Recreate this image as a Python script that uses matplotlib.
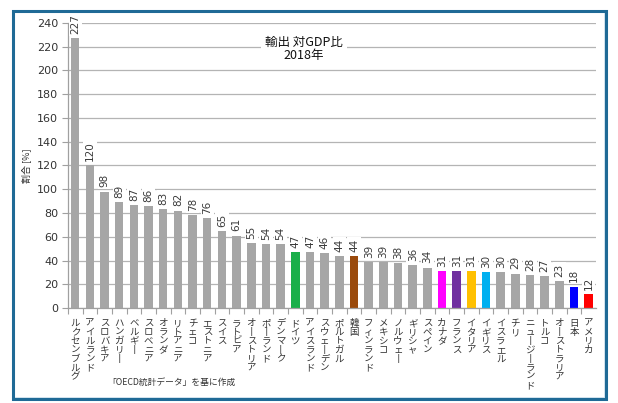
import matplotlib
matplotlib.use("Agg")
import matplotlib.pyplot as plt
from matplotlib.patches import Rectangle

plt.rcParams['font.family'] = ['Noto Sans CJK JP', 'DejaVu Sans']

# data
countries = ["ルクセンブルグ", "アイルランド", "スロバキア", "ハンガリー", "ベルギー",
             "スロベニア", "オランダ", "リトアニア", "チェコ", "エストニア", "スイス",
             "ラトビア", "オーストリア", "ポーランド", "デンマーク", "ドイツ",
             "アイスランド", "スウェーデン", "ポルトガル", "韓国", "フィンランド",
             "メキシコ", "ノルウェー", "ギリシャ", "スペイン", "カナダ", "フランス",
             "イタリア", "イギリス", "イスラエル", "チリ", "ニュージーランド", "トルコ",
             "オーストラリア", "日本", "アメリカ"]
values = [227, 120, 98, 89, 87, 86, 83, 82, 78, 76, 65, 61, 55, 54, 54, 47,
          47, 46, 44, 44, 39, 39, 38, 36, 34, 31, 31, 31, 30, 30, 29, 28, 27,
          23, 18, 12]
highlight = {"ドイツ": "#1aaf4a", "韓国": "#9a4a0c", "カナダ": "#ff00ff",
             "フランス": "#7030a0", "イタリア": "#ffc000", "イギリス": "#00b0f0",
             "日本": "#0000ff", "アメリカ": "#ff0000"}
yticks = list(range(0, 241, 20))

colors = [highlight.get(c, "#a6a6a6") for c in countries]
x = list(range(len(countries)))

fig = plt.figure(figsize=(6.18, 4.03), dpi=100)
ax = fig.add_axes([0.110, 0.2357, 0.8544, 0.7073])

ax.bar(x, values, width=0.57, color=colors, zorder=2)
ax.set_xlim(-0.5, len(countries) - 0.5)
ax.set_ylim(0, 240)
ax.set_yticks(yticks)
ax.set_yticklabels([str(t) for t in yticks], family="DejaVu Sans")
ax.yaxis.grid(True, color="#b4b4b4", linewidth=0.9, zorder=0)
ax.set_axisbelow(True)

for s in ("top", "right"):
    ax.spines[s].set_visible(False)
for s in ("left", "bottom"):
    ax.spines[s].set_color("#a0a0a0")
    ax.spines[s].set_linewidth(0.9)

ax.tick_params(axis="y", labelsize=8, labelcolor="#333333", color="#a0a0a0",
               length=4, width=0.8, pad=3)

# vertical country labels
vlabels = ["\n".join(c.replace("ー", "丨")) for c in countries]
ax.set_xticks(x)
ax.set_xticklabels(vlabels, fontsize=6.8, color="#333333", linespacing=0.98,
                   va="top")
ax.tick_params(axis="x", which="major", length=0, pad=8)
ax.set_xticks([i + 0.5 for i in x[:-1]] + [-0.5], minor=True)
ax.tick_params(axis="x", which="minor", length=4, color="#a0a0a0", width=0.8)

# value labels
for xi, v in zip(x, values):
    ax.text(xi, v + 3.5, str(v), rotation=90, ha="center", va="bottom",
            fontsize=7.5, family="DejaVu Sans", color="#3a3a3a", zorder=3,
            bbox=dict(boxstyle="square,pad=0.15", fc="white", ec="none"))

ax.set_ylabel("割合 [%]", fontsize=6.5, color="#333333", labelpad=4)

ax.text(0.447, 0.955, "輸出 対GDP比\n2018年", transform=ax.transAxes,
        ha="center", va="top", fontsize=9, color="#111111", linespacing=1.0,
        zorder=4, bbox=dict(boxstyle="square,pad=0.3", fc="white", ec="none"))

fig.text(0.278, 0.05, "「OECD統計データ」を基に作成", ha="center", va="center",
         fontsize=6.3, color="#333333")

# frame
fig.patches.append(Rectangle((0.023, 0.012), 0.956, 0.96, transform=fig.transFigure,
                             fill=False, ec="#cfe2ee", lw=1.2, zorder=0))
fig.patches.append(Rectangle((0.021, 0.010), 0.960, 0.962, transform=fig.transFigure,
                             fill=False, ec="#1f6a96", lw=2.2, zorder=1))

fig.savefig("out.png", dpi=100)
